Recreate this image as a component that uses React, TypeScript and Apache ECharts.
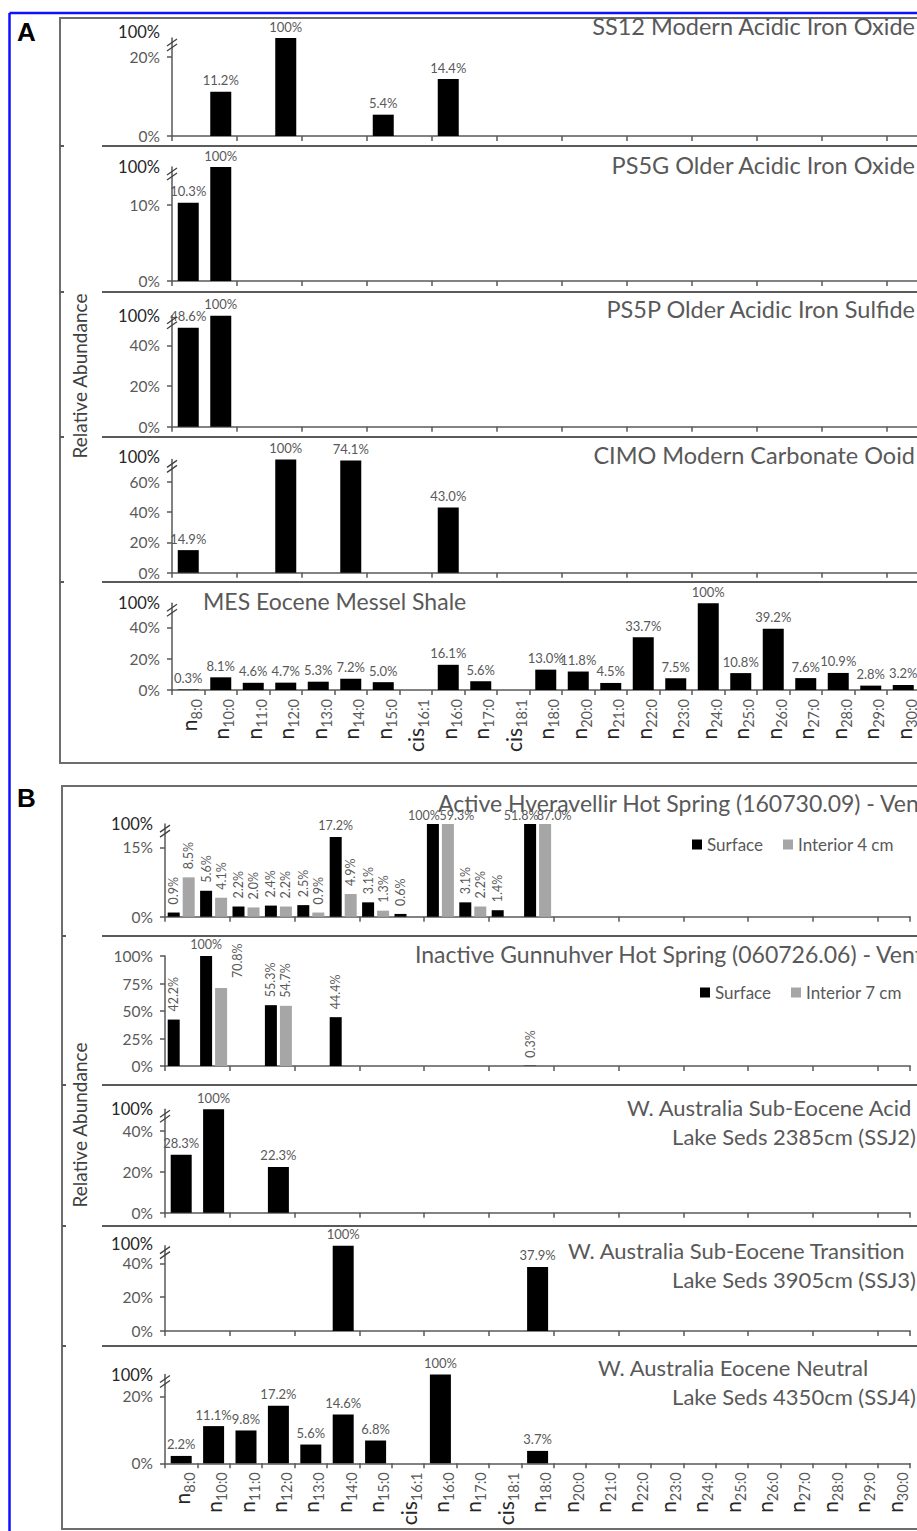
import React, { useEffect, useRef } from "react";
import * as echarts from "echarts";

const _ = null;

const categories = [
  "n8:0", "n10:0", "n11:0", "n12:0", "n13:0", "n14:0", "n15:0", "cis16:1",
  "n16:0", "n17:0", "cis18:1", "n18:0", "n20:0", "n21:0", "n22:0", "n23:0",
  "n24:0", "n25:0", "n26:0", "n27:0", "n28:0", "n29:0", "n30:0",
];

// Panel A
const ss12Values = [_, 11.2, _, 100, _, _, 5.4, _, 14.4, _, _, _, _, _, _, _, _, _, _, _, _, _, _];
const ps5gValues = [10.3, 100, _, _, _, _, _, _, _, _, _, _, _, _, _, _, _, _, _, _, _, _, _];
const ps5pValues = [48.6, 100, _, _, _, _, _, _, _, _, _, _, _, _, _, _, _, _, _, _, _, _, _];
const cimoValues = [14.9, _, _, 100, _, 74.1, _, _, 43.0, _, _, _, _, _, _, _, _, _, _, _, _, _, _];
const mesValues = [0.3, 8.1, 4.6, 4.7, 5.3, 7.2, 5.0, _, 16.1, 5.6, _, 13.0, 11.8, 4.5, 33.7, 7.5, 100, 10.8, 39.2, 7.6, 10.9, 2.8, 3.2];

// Panel B
const hvSurface = [0.9, 5.6, 2.2, 2.4, 2.5, 17.2, 3.1, 0.6, 100, 3.1, 1.4, 51.8, _, _, _, _, _, _, _, _, _, _, _];
const hvInterior = [8.5, 4.1, 2.0, 2.2, 0.9, 4.9, 1.3, _, 59.3, 2.2, _, 87.0, _, _, _, _, _, _, _, _, _, _, _];
const guSurface = [42.2, 100, _, 55.3, _, 44.4, _, _, _, _, _, 0.3, _, _, _, _, _, _, _, _, _, _, _];
const guInterior = [_, 70.8, _, 54.7, _, _, _, _, _, _, _, _, _, _, _, _, _, _, _, _, _, _, _];
const ssj2Values = [28.3, 100, _, 22.3, _, _, _, _, _, _, _, _, _, _, _, _, _, _, _, _, _, _, _];
const ssj3Values = [_, _, _, _, _, 100, _, _, _, _, _, 37.9, _, _, _, _, _, _, _, _, _, _, _];
const ssj4Values = [2.2, 11.1, 9.8, 17.2, 5.6, 14.6, 6.8, _, 100, _, _, 3.7, _, _, _, _, _, _, _, _, _, _, _];

const FONT = "Lato, 'Open Sans', 'DejaVu Sans', sans-serif";
const TXT = "#595959";
const DARK = "#262626";
const AXIS_C = "#595959";
const BLACK = "#000000";
const LIGHT = "#a6a6a6";

type SeriesDef = { name: string; values: (number | null)[]; color: string; shift?: Record<number, number[]> };
type PanelDef = {
  series: SeriesDef[];
  left: number;
  width: number;
  base: number;
  px: number;
  cap: number;
  ticks: number[];
  lift: number;
  brk: boolean;
  showX: boolean;
  pair: boolean;
};

const AX_A = { left: 172, width: 747.5 };
const AX_B = { left: 165, width: 745.2 };

const panels: PanelDef[] = [
  { series: [{ name: "SS12", values: ss12Values, color: BLACK }], ...AX_A, base: 136, px: 3.95, cap: 24.8, ticks: [0, 20], lift: 6, brk: true, showX: false, pair: false },
  { series: [{ name: "PS5G", values: ps5gValues, color: BLACK }], ...AX_A, base: 281, px: 7.6, cap: 15, ticks: [0, 10], lift: 0, brk: true, showX: false, pair: false },
  { series: [{ name: "PS5P", values: ps5pValues, color: BLACK }], ...AX_A, base: 426.7, px: 2.035, cap: 54.5, ticks: [0, 20, 40], lift: 0, brk: true, showX: false, pair: false },
  { series: [{ name: "CIMO", values: cimoValues, color: BLACK }], ...AX_A, base: 572.7, px: 1.515, cap: 74.8, ticks: [0, 20, 40, 60], lift: 2, brk: true, showX: false, pair: false },
  { series: [{ name: "MES", values: mesValues, color: BLACK }], ...AX_A, base: 690, px: 1.565, cap: 55.4, ticks: [0, 20, 40], lift: 0, brk: true, showX: true, pair: false },
  { series: [{ name: "Surface", values: hvSurface, color: BLACK }, { name: "Interior 4 cm", values: hvInterior, color: LIGHT }], ...AX_B, base: 916.7, px: 4.63, cap: 20, ticks: [0, 15], lift: 0, brk: true, showX: false, pair: true },
  { series: [{ name: "Surface", values: guSurface, color: BLACK }, { name: "Interior 7 cm", values: guInterior, color: LIGHT, shift: { 1: [2, 16] } }], ...AX_B, base: 1066, px: 1.1, cap: 100, ticks: [0, 25, 50, 75, 100], lift: 0, brk: false, showX: false, pair: true },
  { series: [{ name: "SSJ2", values: ssj2Values, color: BLACK }], ...AX_B, base: 1212.7, px: 2.05, cap: 50.5, ticks: [0, 20, 40], lift: 0, brk: true, showX: false, pair: false },
  { series: [{ name: "SSJ3", values: ssj3Values, color: BLACK }], ...AX_B, base: 1331, px: 1.69, cap: 50.5, ticks: [0, 20, 40], lift: 2, brk: true, showX: false, pair: false },
  { series: [{ name: "SSJ4", values: ssj4Values, color: BLACK }], ...AX_B, base: 1463.3, px: 3.35, cap: 26.5, ticks: [0, 20], lift: 0, brk: true, showX: true, pair: false },
];

type TitleDef = { text: string; x: number; y: number; align: "left" | "right"; size: number };
const titles: TitleDef[] = [
  { text: "SS12 Modern Acidic Iron Oxide", x: 915, y: 26, align: "right", size: 23.5 },
  { text: "PS5G Older Acidic Iron Oxide", x: 915, y: 165, align: "right", size: 23.5 },
  { text: "PS5P Older Acidic Iron Sulfide", x: 915, y: 309, align: "right", size: 23.5 },
  { text: "CIMO Modern Carbonate Ooid", x: 915, y: 455, align: "right", size: 23.5 },
  { text: "MES Eocene Messel Shale", x: 203, y: 601, align: "left", size: 23 },
  { text: "Active Hveravellir Hot Spring (160730.09) - Vent", x: 438, y: 803, align: "left", size: 23 },
  { text: "Inactive Gunnuhver Hot Spring (060726.06) - Vent", x: 415, y: 954, align: "left", size: 23 },
  { text: "W. Australia Sub-Eocene Acid", x: 627, y: 1107, align: "left", size: 22 },
  { text: "Lake Seds 2385cm (SSJ2)", x: 916, y: 1136, align: "right", size: 22 },
  { text: "W. Australia Sub-Eocene Transition", x: 568, y: 1250, align: "left", size: 22 },
  { text: "Lake Seds 3905cm (SSJ3)", x: 916, y: 1279, align: "right", size: 22 },
  { text: "W. Australia Eocene Neutral", x: 598, y: 1367, align: "left", size: 22 },
  { text: "Lake Seds 4350cm (SSJ4)", x: 916, y: 1396, align: "right", size: 22 },
];

const sepA = [146, 292, 437, 582];
const sepB = [936, 1085, 1226, 1346];

function fmt(v: number | null): string {
  if (v == null) return "";
  return v === 100 ? "100%" : v.toFixed(1) + "%";
}

function buildOption() {
  const grid: any[] = [];
  const xAxis: any[] = [];
  const yAxis: any[] = [];
  const series: any[] = [];
  const graphic: any[] = [];

  panels.forEach((p, i) => {
    const h = p.cap * p.px;
    const top = p.base - h;
    grid.push({ left: p.left, top, width: p.width, height: h, outerBoundsMode: "none", containLabel: false });
    xAxis.push({
      type: "category",
      gridIndex: i,
      data: categories,
      boundaryGap: true,
      axisLine: { show: true, lineStyle: { color: AXIS_C, width: 1.5 } },
      axisTick: { show: true, length: 5, lineStyle: { color: AXIS_C, width: 1.5 } },
      splitLine: { show: false },
      axisLabel: p.showX
        ? {
            show: true,
            interval: 0,
            rotate: 90,
            margin: 9,
            formatter: (v: string) => {
              const m = /^(n|cis)(.+)$/.exec(v);
              return m ? `{a|${m[1]}}{b|${m[2]}}` : v;
            },
            rich: {
              a: { fontSize: 21, color: DARK, fontFamily: FONT, verticalAlign: "top", lineHeight: 21 },
              b: { fontSize: 14.5, color: TXT, fontFamily: FONT, verticalAlign: "top", lineHeight: 14, padding: [11, 0, 0, 0] },
            },
          }
        : { show: false },
    });
    const labelValues = p.brk ? [...p.ticks, p.cap] : p.ticks;
    yAxis.push({
      type: "value",
      gridIndex: i,
      min: 0,
      max: p.cap,
      interval: p.ticks[1],
      splitLine: { show: false },
      axisLine: { show: true, lineStyle: { color: AXIS_C, width: 1.5 } },
      axisTick: { show: true, length: 5, customValues: p.ticks, lineStyle: { color: AXIS_C, width: 1.5 } },
      axisLabel: {
        show: true,
        margin: 12,
        customValues: labelValues,
        showMaxLabel: true,
        color: TXT,
        fontSize: 15.5,
        fontFamily: FONT,
        formatter: (v: number) =>
          p.brk && Math.abs(v - p.cap) < 1e-6 ? "{d|100%}" : `${Math.round(v)}%`,
        rich: {
          d: { fontSize: 16.5, color: DARK, fontFamily: FONT, padding: [0, 0, p.lift * 2, 0] },
        },
      },
    });
    const rotated = (v: number | null) => v != null && Math.min(v, p.cap) < p.cap * 0.8;
    p.series.forEach((s, si) => {
      const other = p.series[1 - si];
      series.push({
        type: "bar",
        name: s.name,
        xAxisIndex: i,
        yAxisIndex: i,
        barWidth: p.pair ? 12 : 21,
        barGap: p.pair ? "25%" : "30%",
        itemStyle: { color: s.color },
        data: s.values.map((v, k) => {
          if (v == null) return "-";
          const d = Math.min(v, p.cap);
          const sh = s.shift && s.shift[k];
          if (p.pair && rotated(v)) {
            const item: any = { value: d, label: { rotate: 90, align: "left", verticalAlign: "middle", distance: 8 } };
            if (sh) item.label.offset = sh;
            return item;
          }
          if (p.pair && other && other.values[k] != null && !rotated(other.values[k])) {
            return { value: d, label: { offset: [si === 0 ? -9 : 9, 0], distance: 2 } };
          }
          return d;
        }),
        label: {
          show: true,
          position: "top",
          distance: 5,
          fontSize: p.pair ? 12.5 : 13,
          color: TXT,
          fontFamily: FONT,
          formatter: (prm: any) => fmt(s.values[prm.dataIndex]),
        },
      });
    });
    if (p.brk) {
      const bx = p.left;
      const by = top + 8;
      graphic.push({ type: "line", shape: { x1: bx - 5, y1: by, x2: bx + 5, y2: by - 7 }, style: { stroke: "#404040", lineWidth: 1.3 }, z: 10 });
      graphic.push({ type: "line", shape: { x1: bx - 5, y1: by + 5, x2: bx + 5, y2: by - 2 }, style: { stroke: "#404040", lineWidth: 1.3 }, z: 10 });
    }
  });

  // outer blue border
  graphic.push({ type: "line", shape: { x1: 9.5, y1: 13, x2: 9.5, y2: 1531 }, style: { stroke: "#1010ff", lineWidth: 2.5 } });
  graphic.push({ type: "line", shape: { x1: 9.5, y1: 13, x2: 1000, y2: 13 }, style: { stroke: "#1010ff", lineWidth: 2.5 } });
  // panel frames
  graphic.push({ type: "rect", shape: { x: 60, y: 18, width: 960, height: 745 }, style: { fill: "none", stroke: "#6d6d6d", lineWidth: 2 } });
  graphic.push({ type: "rect", shape: { x: 62, y: 786, width: 960, height: 743 }, style: { fill: "none", stroke: "#6d6d6d", lineWidth: 2 } });
  sepA.forEach((y) => {
    graphic.push({ type: "line", shape: { x1: 102, y1: y, x2: 1000, y2: y }, style: { stroke: "#5a5a5a", lineWidth: 2 } });
    graphic.push({ type: "line", shape: { x1: 60, y1: y, x2: 64, y2: y }, style: { stroke: "#5a5a5a", lineWidth: 2 } });
  });
  sepB.forEach((y) => {
    graphic.push({ type: "line", shape: { x1: 102, y1: y, x2: 1000, y2: y }, style: { stroke: "#5a5a5a", lineWidth: 2 } });
    graphic.push({ type: "line", shape: { x1: 62, y1: y, x2: 66, y2: y }, style: { stroke: "#5a5a5a", lineWidth: 2 } });
  });
  // panel letters
  graphic.push({ type: "text", x: 17, y: 19, style: { text: "A", font: "bold 26px 'Liberation Sans', Arial, sans-serif", fill: "#000" } });
  graphic.push({ type: "text", x: 17, y: 785, style: { text: "B", font: "bold 26px 'Liberation Sans', Arial, sans-serif", fill: "#000" } });
  // axis names
  graphic.push({ type: "text", x: 79, y: 376, rotation: Math.PI / 2, style: { text: "Relative Abundance", font: `19px ${FONT}`, fill: "#404040", align: "center", verticalAlign: "middle" } });
  graphic.push({ type: "text", x: 79, y: 1125, rotation: Math.PI / 2, style: { text: "Relative Abundance", font: `19px ${FONT}`, fill: "#404040", align: "center", verticalAlign: "middle" } });
  // titles
  titles.forEach((t) => {
    graphic.push({ type: "text", x: t.x, y: t.y, z: 5, style: { text: t.text, font: `${t.size}px ${FONT}`, fill: TXT, align: t.align, verticalAlign: "middle" } });
  });

  const legendBase = {
    itemWidth: 10,
    itemHeight: 10,
    itemGap: 20,
    icon: "rect",
    selectedMode: false,
    orient: "horizontal",
    padding: 0,
    textStyle: { fontSize: 17, color: TXT, fontFamily: FONT },
  };

  return {
    animation: false,
    backgroundColor: "#ffffff",
    textStyle: { fontFamily: FONT },
    grid,
    xAxis,
    yAxis,
    series,
    legend: [
      { ...legendBase, data: ["Surface", "Interior 4 cm"], left: 692, top: 836 },
      { ...legendBase, data: ["Surface", "Interior 7 cm"], left: 700, top: 984 },
    ],
    graphic: { elements: graphic },
  };
}

export default function App() {
  const ref = useRef<HTMLDivElement>(null);
  useEffect(() => {
    if (!ref.current) return;
    const chart = echarts.init(ref.current, null, { renderer: "svg" });
    chart.setOption(buildOption() as any);
    return () => chart.dispose();
  }, []);
  return (
    <div style={{ position: "absolute", left: 0, top: 0, width: 917, height: 1531, overflow: "hidden", background: "#fff" }}>
      <div ref={ref} style={{ width: 1000, height: 1531 }} />
    </div>
  );
}
